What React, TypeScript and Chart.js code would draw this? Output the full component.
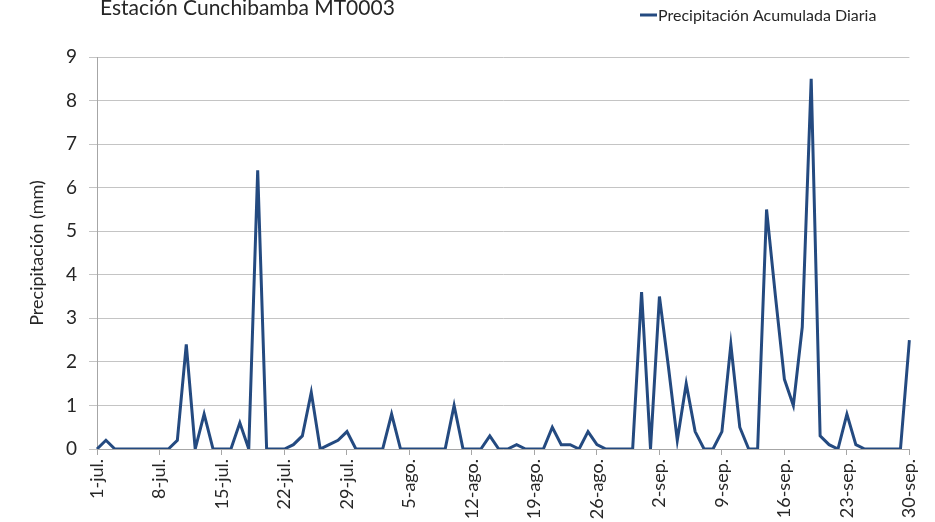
import React, { useEffect, useRef } from "react";
import { Chart, registerables } from "chart.js";

Chart.register(...registerables);

const TITLE = "Estación Cunchibamba MT0003";
const SERIES_NAME = "Precipitación Acumulada Diaria";
const Y_TITLE = "Precipitación (mm)";

const julyValues = [
  0, 0.2, 0, 0, 0, 0, 0, 0, 0, 0.2, 2.4, 0, 0.8, 0, 0, 0, 0.6, 0, 6.4, 0, 0, 0,
  0.1, 0.3, 1.3, 0, 0.1, 0.2, 0.4, 0, 0,
];
const augustValues = [
  0, 0, 0.8, 0, 0, 0, 0, 0, 0, 1.0, 0, 0, 0, 0.3, 0, 0, 0.1, 0, 0, 0, 0.5, 0.1,
  0.1, 0, 0.4, 0.1, 0, 0, 0, 0, 3.6,
];
const septemberValues = [
  0, 3.5, 1.9, 0.2, 1.5, 0.4, 0, 0, 0.4, 2.4, 0.5, 0, 0, 5.5, 3.5, 1.6, 1.0, 2.8,
  8.5, 0.3, 0.1, 0, 0.8, 0.1, 0, 0, 0, 0, 0, 2.5,
];

const months = [
  { abbr: "jul.", values: julyValues },
  { abbr: "ago.", values: augustValues },
  { abbr: "sep.", values: septemberValues },
];

const labels: string[] = [];
const values: number[] = [];
months.forEach((m) => {
  m.values.forEach((v, i) => {
    labels.push(`${i + 1}-${m.abbr}`);
    values.push(v);
  });
});

const LABEL_STEP = 7;
const FONT = "Lato, 'Open Sans', sans-serif";
const TEXT = "#262626";
const LINE = "#244A80";

const headerPlugin = {
  id: "header",
  afterDraw(chart: any) {
    const ctx = chart.ctx;
    ctx.save();
    ctx.fillStyle = TEXT;
    ctx.textBaseline = "alphabetic";
    ctx.textAlign = "left";
    ctx.font = `21px ${FONT}`;
    ctx.fillText(TITLE, 100, 15);
    ctx.strokeStyle = LINE;
    ctx.lineWidth = 3;
    ctx.beginPath();
    ctx.moveTo(640, 15);
    ctx.lineTo(657, 15);
    ctx.stroke();
    ctx.font = `16px ${FONT}`;
    ctx.fillText(SERIES_NAME, 658, 21);
    ctx.restore();
  },
};

export default function App() {
  const ref = useRef<HTMLCanvasElement | null>(null);
  useEffect(() => {
    if (!ref.current) return;
    const chart = new Chart(ref.current, {
      type: "line",
      data: {
        labels,
        datasets: [
          {
            label: SERIES_NAME,
            data: values,
            borderColor: LINE,
            backgroundColor: LINE,
            borderWidth: 3,
            pointRadius: 0,
            tension: 0,
            fill: false,
          },
        ],
      },
      options: {
        animation: false,
        responsive: false,
        maintainAspectRatio: false,
        layout: { padding: { top: 57, right: 22, left: 0, bottom: 0 } },
        plugins: {
          legend: { display: false },
          title: { display: false },
          tooltip: { enabled: false },
        },
        scales: {
          x: {
            type: "category",
            offset: false,
            grid: {
              drawOnChartArea: false,
              drawTicks: true,
              tickLength: 6,
              color: "#A6A6A6",
            },
            border: { color: "#A6A6A6" },
            ticks: {
              autoSkip: false,
              maxRotation: 90,
              minRotation: 90,
              padding: 4,
              color: TEXT,
              font: { family: FONT, size: 18 },
              callback: (_v: any, i: number) =>
                i % LABEL_STEP === 0 ? labels[i] : null,
            },
            afterFit: (s: any) => {
              s.height = 73;
            },
          },
          y: {
            min: 0,
            max: 9,
            ticks: {
              stepSize: 1,
              padding: 12,
              color: TEXT,
              font: { family: FONT, size: 19 },
            },
            grid: {
              color: "#C4C4C4",
              lineWidth: 1,
              drawTicks: true,
              tickLength: 8,
            },
            border: { color: "#A6A6A6" },
            title: {
              display: true,
              text: Y_TITLE,
              color: TEXT,
              font: { family: FONT, size: 18 },
              padding: { top: 26, bottom: 8 },
            },
            afterFit: (s: any) => {
              s.width = 97;
            },
          },
        },
      },
      plugins: [headerPlugin],
    });
    return () => chart.destroy();
  }, []);
  return (
    <div style={{ position: "fixed", left: 0, top: 0, width: 935, height: 522, background: "#fff" }}>
      <canvas ref={ref} width={935} height={522} style={{ width: 935, height: 522 }} />
    </div>
  );
}
